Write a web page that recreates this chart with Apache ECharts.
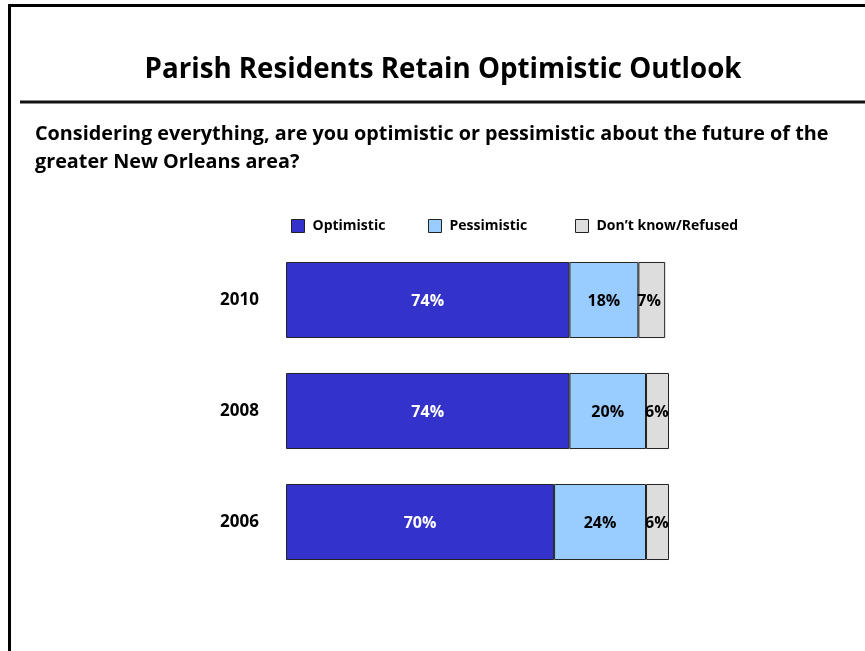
<!DOCTYPE html>
<html>
<head>
<meta charset="utf-8">
<script src="https://cdn.jsdelivr.net/npm/echarts@6/dist/echarts.min.js"></script>
<style>
  html, body { margin: 0; padding: 0; background: #fff; }
  #chart { width: 865px; height: 651px; }
</style>
</head>
<body>
<div id="chart"></div>
<script>
// Survey years, top to bottom
const years = ['2010', '2008', '2006'];
// Share of respondents (%) per answer
const optimistic = [74, 74, 70];
const pessimistic = [18, 20, 24];
const dontKnow = [7, 6, 6];
const seriesNames = ['Optimistic', 'Pessimistic', 'Don\u2019t know/Refused'];

const FONT = '"Open Sans", Lato, sans-serif';
const colors = ['#3333CC', '#99CCFF', '#DDDDDD'];
const labelColors = ['#ffffff', '#000000', '#000000'];
const values = [optimistic, pessimistic, dontKnow];

const chart = echarts.init(document.getElementById('chart'), null, { renderer: 'canvas' });

function makeSeries(i) {
  return {
    name: seriesNames[i],
    type: 'bar',
    stack: 'total',
    barCategoryGap: '31.5%',
    data: values[i],
    itemStyle: { color: colors[i], borderColor: '#222', borderWidth: 1 },
    label: {
      show: true,
      position: i === 2 ? 'insideLeft' : 'inside',
      distance: 0,
      offset: i === 2 ? [-1, 1] : [0, 1],
      formatter: p => p.value + '%',
      color: labelColors[i],
      fontFamily: FONT,
      fontWeight: 'bold',
      fontSize: 16
    },
    emphasis: { disabled: true },
    animation: false
  };
}

function legendAt(name, left) {
  return {
    data: [name],
    left: left,
    top: 214,
    itemWidth: 13,
    itemHeight: 13,
    icon: 'rect',
    itemStyle: { borderColor: '#222', borderWidth: 1 },
    textStyle: { fontFamily: FONT, fontWeight: 'bold', fontSize: 14, color: '#000', padding: [0, 0, 0, 3] },
    selectedMode: false
  };
}

chart.setOption({
  backgroundColor: '#ffffff',
  animation: false,
  title: [
    {
      text: 'Parish Residents Retain Optimistic Outlook',
      left: 438,
      top: 51,
      textAlign: 'center',
      textStyle: { fontFamily: FONT, fontWeight: 'bold', fontSize: 27.7, color: '#000' }
    },
    {
      text: 'Considering everything, are you optimistic or pessimistic about the future of the\ngreater New Orleans area?',
      left: 30,
      top: 115,
      textStyle: { fontFamily: FONT, fontWeight: 'bold', fontSize: 19.8, lineHeight: 28, color: '#000' }
    }
  ],
  legend: [
    legendAt(seriesNames[0], 286),
    legendAt(seriesNames[1], 423),
    legendAt(seriesNames[2], 570)
  ],
  grid: { left: 286, top: 244.5, width: 383, height: 333 },
  xAxis: {
    type: 'value',
    min: 0,
    max: 100,
    show: false
  },
  yAxis: {
    type: 'category',
    data: years,
    inverse: true,
    axisLine: { show: false },
    axisTick: { show: false },
    axisLabel: { margin: 27, padding: [4, 0, 0, 0], fontFamily: FONT, fontWeight: 'bold', fontSize: 17, color: '#000' }
  },
  series: [makeSeries(0), makeSeries(1), makeSeries(2)],
  graphic: [
    // outer frame: left edge and top edge
    { type: 'rect', shape: { x: 8, y: 4, width: 3, height: 647 }, style: { fill: '#000' }, silent: true },
    { type: 'rect', shape: { x: 8, y: 4, width: 857, height: 3 }, style: { fill: '#000' }, silent: true },
    // rule under the headline
    { type: 'rect', shape: { x: 20, y: 100.5, width: 845, height: 3 }, style: { fill: '#111' }, silent: true }
  ]
});
</script>
</body>
</html>
